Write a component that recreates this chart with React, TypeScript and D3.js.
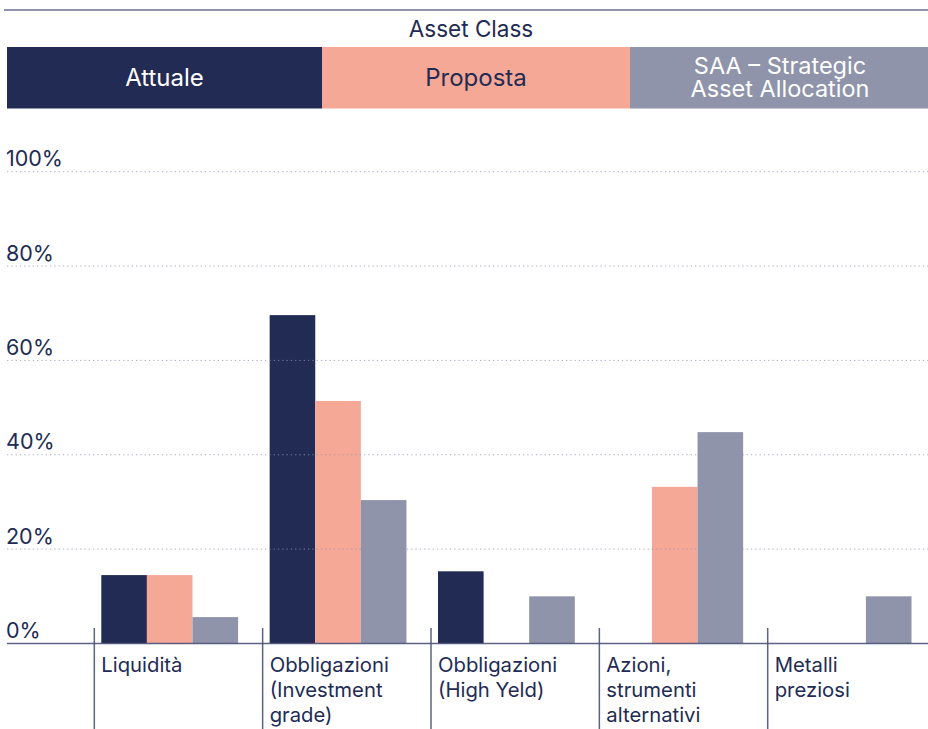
import React from "react";
import * as d3 from "d3";

const categories: string[][] = [
  ["Liquidità"],
  ["Obbligazioni", "(Investment", "grade)"],
  ["Obbligazioni", "(High Yeld)"],
  ["Azioni,", "strumenti", "alternativi"],
  ["Metalli", "preziosi"],
];
const seriesNames = ["Attuale", "Proposta", "SAA – Strategic Asset Allocation"];
const saaLines = ["SAA – Strategic", "Asset Allocation"];
const attuale = [14.5, 69.6, 15.3, 0, 0];
const proposta = [14.5, 51.4, 0, 33.2, 0];
const saa = [5.6, 30.4, 10, 44.8, 10];
const yTicks = [0, 20, 40, 60, 80, 100];

const NAVY = "#222b54";
const PINK = "#f5a895";
const GRAY = "#8f94aa";
const colors = [NAVY, PINK, GRAY];

export default function App() {
  const W = 928;
  const H = 729;
  const font = "Inter, 'Noto Sans', sans-serif";
  const y = d3.scaleLinear().domain([0, 100]).range([643.5, 171.7]);
  const x = d3
    .scaleBand<number>()
    .domain(d3.range(categories.length))
    .range([94.3, 94.3 + 168.35 * categories.length])
    .paddingInner(0)
    .paddingOuter(0);
  const inner = d3.scaleBand<number>().domain([0, 1, 2]).range([7, 7 + 45.6 * 3]);
  const series = [attuale, proposta, saa];

  const legendX = d3.scaleOrdinal<number, number>().domain([0, 1, 2]).range([7, 322, 630]);
  const legendEnd = [322, 630, 928];

  return (
    <svg
      width={W}
      height={H}
      style={{ position: "absolute", left: 0, top: 0, display: "block" }}
      fontFamily={font}
    >
      <rect x={0} y={0} width={W} height={H} fill="#fff" />
      <line x1={4} x2={W} y1={10} y2={10} stroke={GRAY} strokeWidth={2} />
      <text x={471} y={37} textAnchor="middle" fontSize={22.5} fill={NAVY}>
        Asset Class
      </text>
      {seriesNames.map((name, i) => {
        const x0 = legendX(i);
        const x1 = legendEnd[i];
        const cx = (x0 + x1) / 2;
        const tc = i === 1 ? NAVY : "#fff";
        return (
          <g key={name}>
            <rect x={x0} y={47} width={x1 - x0} height={61.5} fill={colors[i]} />
            {i === 2 ? (
              saaLines.map((l, li) => (
                <text key={li} x={cx + 1} y={74 + li * 23} textAnchor="middle" fontSize={23.5} fill={tc}>
                  {l}
                </text>
              ))
            ) : (
              <text x={cx} y={86} textAnchor="middle" fontSize={24} fill={tc}>
                {name}
              </text>
            )}
          </g>
        );
      })}

      {/* bars */}
      {categories.map((_, ci) =>
        series.map((s, si) =>
          s[ci] > 0 ? (
            <rect
              key={`${ci}-${si}`}
              x={(x(ci) as number) + (inner(si) as number)}
              y={y(s[ci])}
              width={inner.bandwidth()}
              height={y(0) - y(s[ci])}
              fill={colors[si]}
            />
          ) : null
        )
      )}

      {/* gridlines */}
      {yTicks.map((t) => (
        <g key={t}>
          {t > 0 && (
            <line
              x1={7}
              x2={W}
              y1={y(t)}
              y2={y(t)}
              stroke="#8d93b0"
              strokeOpacity={0.75}
              strokeWidth={1}
              strokeDasharray="1.3 3"
            />
          )}
          <text x={6} y={y(t) - 5.5} fontSize={21.5} fill={NAVY}>
            {`${t}%`}
          </text>
        </g>
      ))}

      {/* axis */}
      <line x1={7} x2={W} y1={y(0)} y2={y(0)} stroke="#4a5278" strokeOpacity={0.9} strokeWidth={1.6} />

      {/* separators and labels */}
      {categories.map((lines, ci) => {
        const sx = x(ci) as number;
        return (
          <g key={ci}>
            <line x1={sx} x2={sx} y1={628} y2={H} stroke="#4a5278" strokeOpacity={0.9} strokeWidth={1.5} />
            <text fontSize={20.3} fill={NAVY}>
              {lines.map((l, li) => (
                <tspan key={li} x={sx + 7} y={672 + li * 25}>
                  {l}
                </tspan>
              ))}
            </text>
          </g>
        );
      })}
    </svg>
  );
}
